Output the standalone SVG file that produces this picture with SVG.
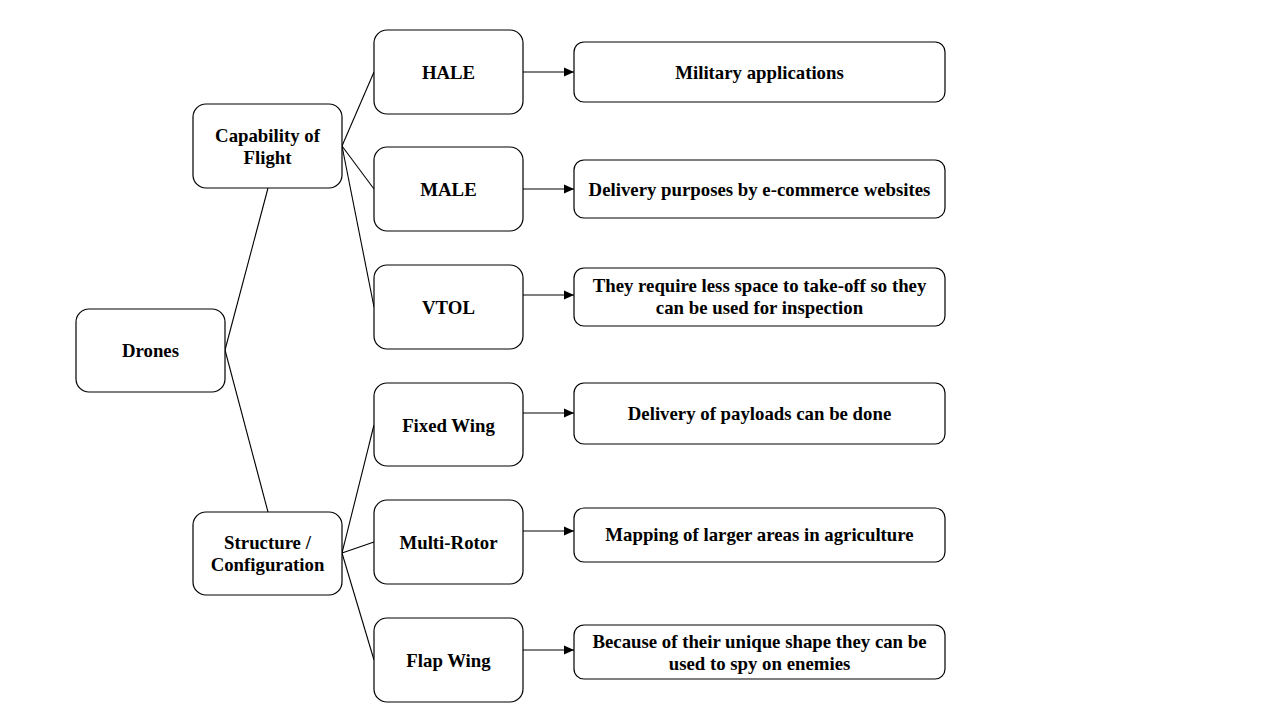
<svg xmlns="http://www.w3.org/2000/svg" width="1280" height="720" viewBox="0 0 1280 720">
<defs>
<style>
.n rect{fill:#fff;stroke:#000;stroke-width:1.2}
.n text{font-family:"Liberation Serif","Times New Roman",serif;font-weight:bold;font-size:18.8px;fill:#000;text-anchor:middle;dominant-baseline:central}
.c line{stroke:#000;stroke-width:1.1}
.c .a{marker-end:url(#ah)}
</style>
<marker id="ah" markerWidth="11" markerHeight="10" refX="10" refY="5" orient="auto" markerUnits="userSpaceOnUse"><path d="M0,0.5L10,5L0,9.5Z" fill="#000"/></marker>
</defs>
<rect width="1280" height="720" fill="#fff"/>
<g class="c">
<line x1="225" y1="350" x2="268" y2="188"/>
<line x1="225" y1="350" x2="268" y2="512"/>
<line x1="342" y1="146" x2="374" y2="72"/>
<line x1="342" y1="146" x2="374" y2="189"/>
<line x1="342" y1="146" x2="374" y2="307"/>
<line x1="342" y1="553" x2="374" y2="425"/>
<line x1="342" y1="553" x2="374" y2="542"/>
<line x1="342" y1="553" x2="374" y2="660"/>
<line class="a" x1="523" y1="72" x2="574" y2="72"/>
<line class="a" x1="523" y1="189" x2="574" y2="189"/>
<line class="a" x1="523" y1="295" x2="574" y2="295"/>
<line class="a" x1="523" y1="413" x2="574" y2="413"/>
<line class="a" x1="523" y1="531" x2="574" y2="531"/>
<line class="a" x1="523" y1="650" x2="574" y2="650"/>
</g>
<g id="drones" class="n"><rect x="76" y="309" width="149" height="83" rx="13"/><text x="150.5" y="350.5">Drones</text></g>
<g id="capability" class="n"><rect x="193" y="104" width="149" height="84" rx="13"/><text x="267.5" y="135">Capability of</text><text x="267.5" y="157">Flight</text></g>
<g id="structure" class="n"><rect x="193" y="512" width="149" height="83" rx="13"/><text x="267.5" y="542">Structure /</text><text x="267.5" y="564">Configuration</text></g>
<g id="hale" class="n"><rect x="374" y="30" width="149" height="84" rx="13"/><text x="448.5" y="72">HALE</text></g>
<g id="male" class="n"><rect x="374" y="147" width="149" height="84" rx="13"/><text x="448.5" y="189">MALE</text></g>
<g id="vtol" class="n"><rect x="374" y="265" width="149" height="84" rx="13"/><text x="448.5" y="307">VTOL</text></g>
<g id="fixed" class="n"><rect x="374" y="383" width="149" height="83" rx="13"/><text x="448.5" y="425">Fixed Wing</text></g>
<g id="multi" class="n"><rect x="374" y="500" width="149" height="84" rx="13"/><text x="448.5" y="542">Multi-Rotor</text></g>
<g id="flap" class="n"><rect x="374" y="618" width="149" height="84" rx="13"/><text x="448.5" y="660">Flap Wing</text></g>
<g id="military" class="n"><rect x="574" y="42" width="371" height="60" rx="10"/><text x="759.5" y="72">Military applications</text></g>
<g id="ecommerce" class="n"><rect x="574" y="160" width="371" height="58" rx="10"/><text x="759.5" y="189">Delivery purposes by e-commerce websites</text></g>
<g id="inspection" class="n"><rect x="574" y="268" width="371" height="58" rx="10"/><text x="759.5" y="285">They require less space to take-off so they</text><text x="759.5" y="307">can be used for inspection</text></g>
<g id="payloads" class="n"><rect x="574" y="383" width="371" height="61" rx="10"/><text x="759.5" y="413">Delivery of payloads can be done</text></g>
<g id="mapping" class="n"><rect x="574" y="508" width="371" height="54" rx="10"/><text x="759.5" y="534">Mapping of larger areas in agriculture</text></g>
<g id="spy" class="n"><rect x="574" y="625" width="371" height="54" rx="10"/><text x="759.5" y="641">Because of their unique shape they can be</text><text x="759.5" y="663">used to spy on enemies</text></g>
</svg>
